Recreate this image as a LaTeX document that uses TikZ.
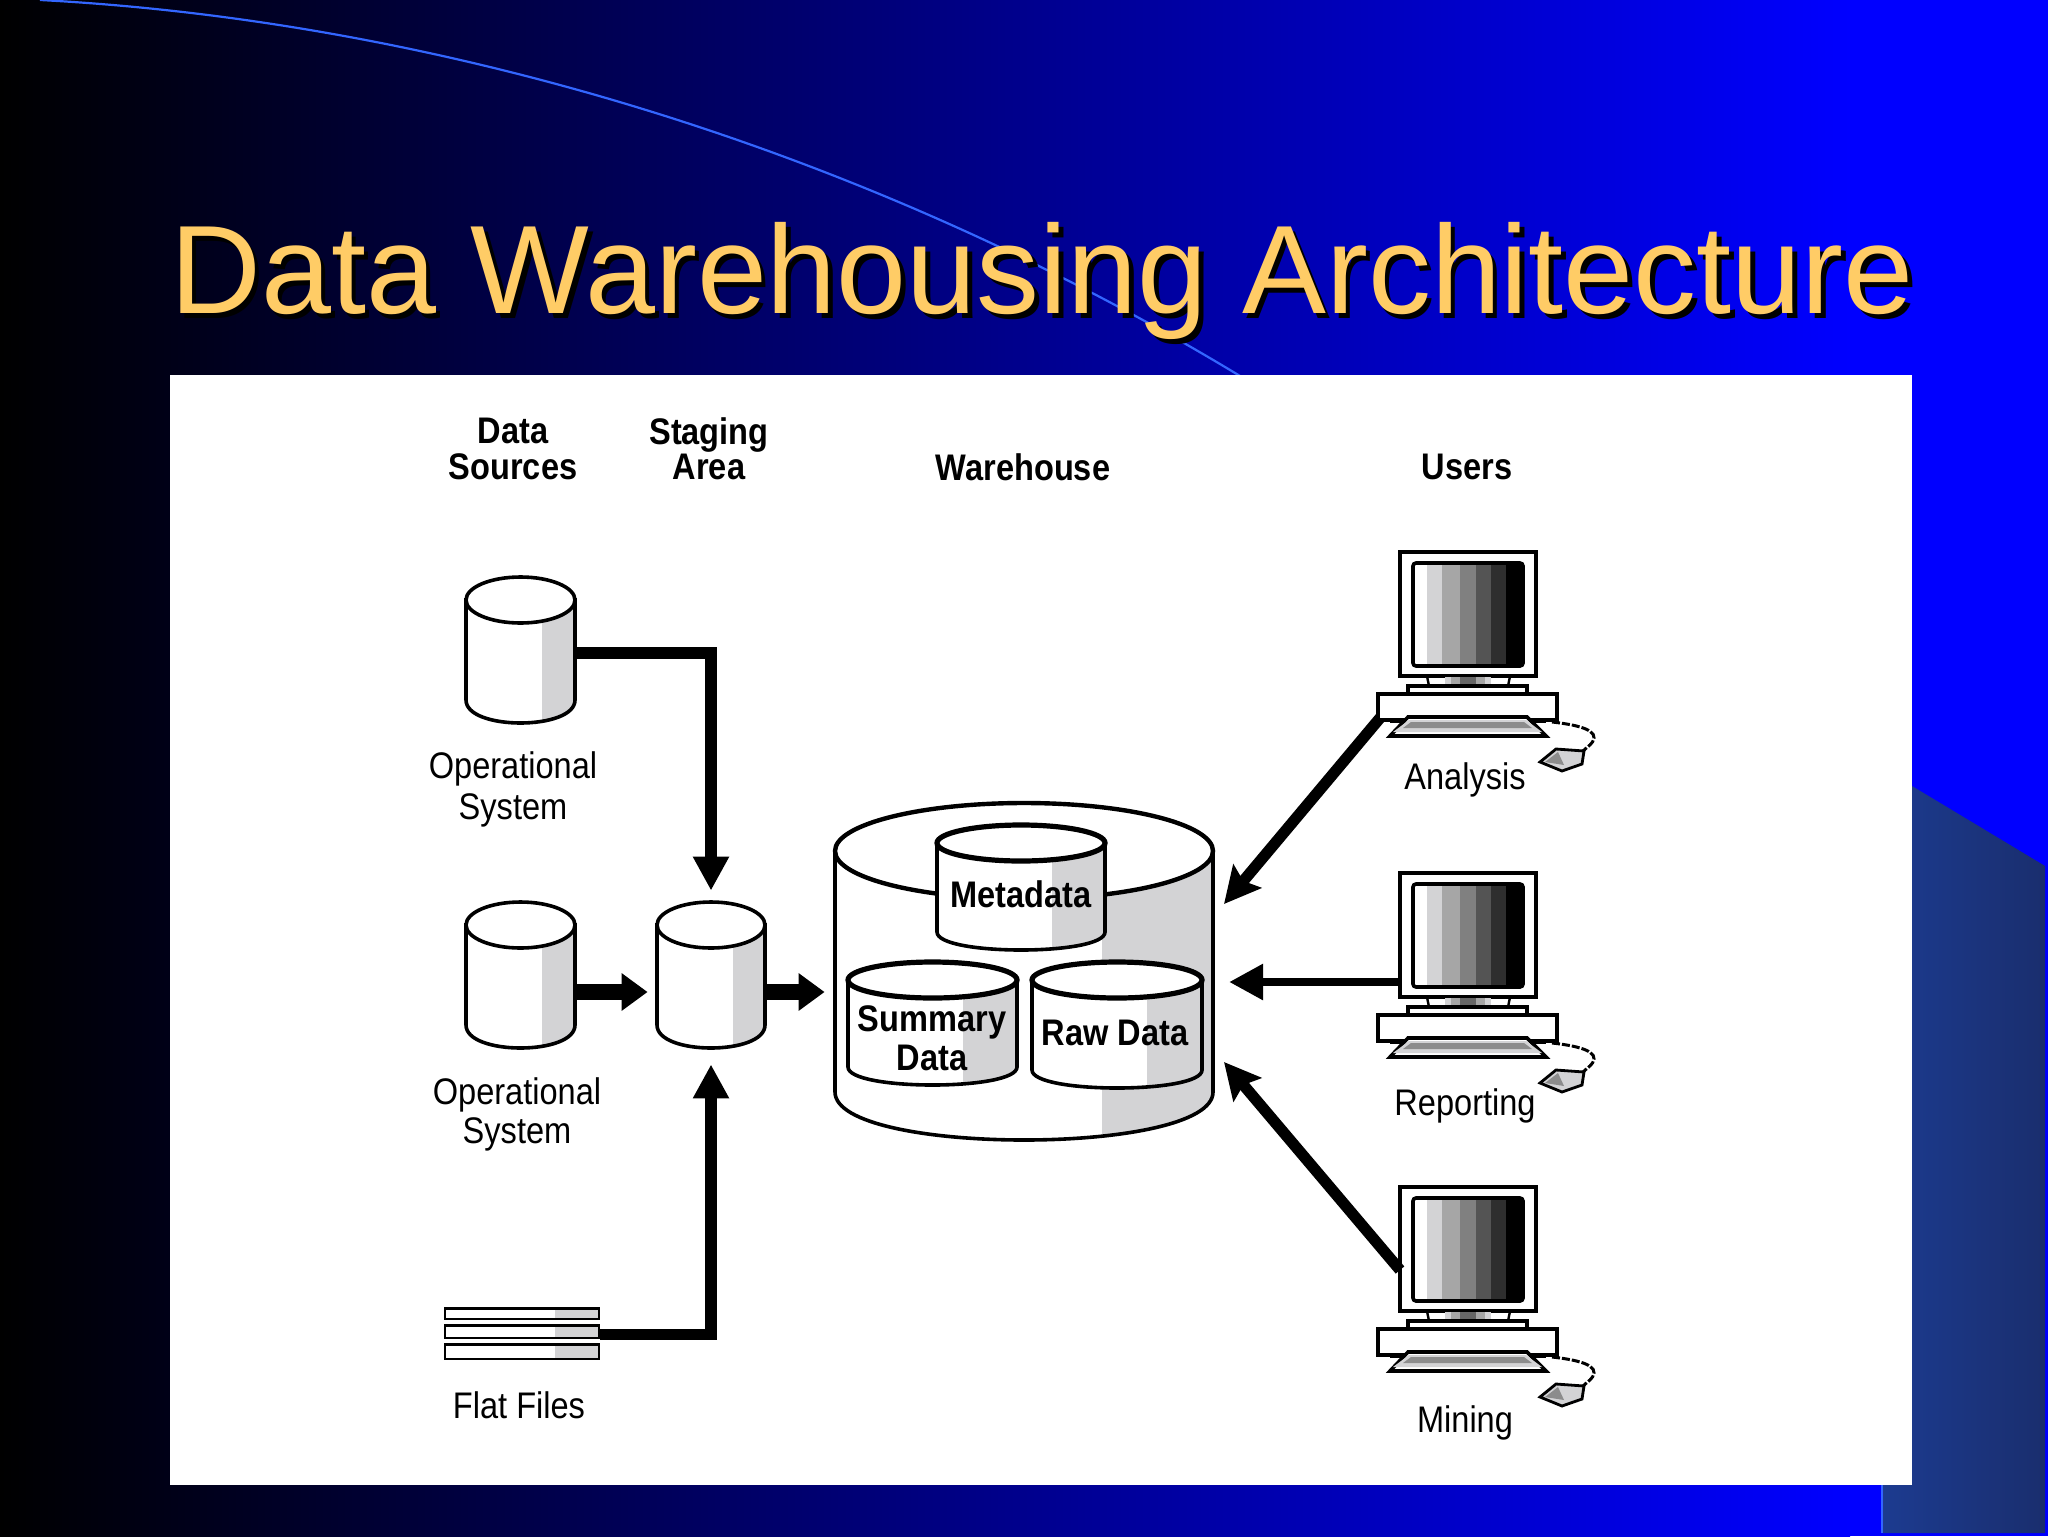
\documentclass[tikz,border=0pt]{standalone}
\usepackage{fontspec}
\usetikzlibrary{arrows.meta}
\setmainfont{Liberation Sans}
\newfontfamily\labfont[FakeStretch=0.88]{Liberation Sans}
\definecolor{shadegray}{HTML}{D3D3D5}
\definecolor{titlegold}{HTML}{FFCC66}
\definecolor{swoosh}{HTML}{3366FF}
\definecolor{paneldarkl}{HTML}{1C3B90}
\definecolor{paneldarkr}{HTML}{1A2E6E}
\tikzset{
  x=0.5pt,y=-0.5pt,
  lab/.style={inner sep=0pt,yshift=-1.2pt,font=\labfont\fontsize{18.5}{20}\selectfont,text=black},
  labb/.style={lab,font=\labfont\bfseries\fontsize{18.5}{20}\selectfont},
  conn/.style={line width=5.8pt,draw=black,-{Triangle[length=17pt,width=17pt]}},
  fat/.style={line width=8pt,draw=black,-{Triangle[length=13pt,width=18pt]}},
  diag/.style={line width=5.6pt,draw=black,-{Stealth[length=18pt,width=18pt,inset=3pt]}},
  outline/.style={draw=black,line width=1.8pt},
  computer/.pic={
    \draw[outline,fill=white] (0,0) rectangle (136,124);
    \fill[white] (13,11) rectangle (123,114);
    \fill[shadegray] (27,11) rectangle (42,114);
    \fill[black!35] (42,11) rectangle (60,114);
    \fill[black!50] (60,11) rectangle (76,114);
    \fill[black!67] (76,11) rectangle (91,114);
    \fill[black!82] (91,11) rectangle (106,114);
    \fill[black] (106,11) rectangle (123,114);
    \draw[outline,rounded corners=1.5pt] (13,11) rectangle (123,114);
    \fill[shadegray] (45,125) rectangle (91,134);
    \fill[black!35] (51,125) rectangle (85,134);
    \fill[black!60] (60,125) rectangle (76,134);
    \draw[line width=1.2pt] (27,124) -- (29,134) (110,124) -- (108,134);
    \draw[outline,fill=white] (8,134) rectangle (127,142);
    \draw[outline,fill=white] (-22,142) rectangle (157,168);
    \fill[black] (-10,168) rectangle (146,171);
    \draw[outline,fill=white] (8,165) -- (127,165) -- (146,184) -- (-10,184) -- cycle;
    \fill[shadegray] (9,168) -- (126,168) -- (142,180) -- (-7,180) -- cycle;
    \fill[black!45] (11,170) -- (124,170) -- (132,176) -- (3,176) -- cycle;
    \draw[line width=1.5pt,dash pattern=on 4pt off 1pt] (152,170) .. controls (170,172) and (195,176) .. (194,186) .. controls (193,192) and (188,194) .. (183,199);
    \draw[line width=1.4pt,fill=shadegray] (140,210) -- (156,197) -- (184,199) -- (182,212) -- (162,219) -- cycle;
    \fill[black!45] (145,210) -- (158,200) -- (164,213) -- cycle;
    \coordinate (-left) at (0,62);
    \coordinate (-corner) at (-20,166);
  }
}
% #1 name, #2 left, #3 right, #4 top, #5 bottom, #6 radius y, #7 start of shade, #8 ellipse rim
\newcommand{\drum}[8]{%
  \pgfmathsetmacro{\drumcx}{(#2+#3)/2}%
  \pgfmathsetmacro{\drumrx}{(#3-#2)/2}%
  \pgfmathsetmacro{\drumyt}{#4+#6}%
  \pgfmathsetmacro{\drumyb}{#5-#6}%
  \pgfmathsetmacro{\drumcy}{\drumyb+1.3333*#6}%
  \def\drumbody{(#2,\drumyt) -- (#2,\drumyb) .. controls (#2,\drumcy) and (#3,\drumcy) .. (#3,\drumyb) -- (#3,\drumyt) -- cycle}%
  \fill[white] \drumbody;%
  \begin{scope}
    \clip (#7,#4) rectangle (#3,#5);
    \fill[shadegray] \drumbody;
  \end{scope}%
  \draw[outline] \drumbody;%
  \draw[draw=black,line width=#8,fill=white] (\drumcx,\drumyt) ellipse [x radius=\drumrx,y radius=#6];%
  \node[inner sep=0pt,minimum width=0.5*(#3-#2),minimum height=0.5*(#5-#4)] (#1) at (\drumcx,{(#4+#5)/2}) {};%
}
\begin{document}
\begin{tikzpicture}
\useasboundingbox (0,0) rectangle (2048,1536);
% background
\fill[blue] (0,0) rectangle (2048,1536);
\shade[left color=black,right color=blue] (0,0) rectangle (1850,1536);
\shade[left color=paneldarkl,right color=paneldarkr] (1882,786) -- (1912,786) -- (2045,866) -- (2045,1533) -- (1882,1533) -- cycle;
\fill[blue] (1882,786) -- (1912,786) -- (1882,780) -- cycle;
\draw[swoosh,line width=0.9pt] (1882,1485) -- (1882,1533);
\draw[swoosh,line width=1.1pt] (40,0) .. controls (420,20) and (850,140) .. (1240,376);
% panel
\fill[white] (170,375) rectangle (1912,1485);
% title
\node[anchor=base west,inner sep=0pt,text=black,font=\fontsize{62.9}{70}\selectfont] (titleshadow) at (174.5,318) {Data Warehousing Architecture};
\node[anchor=base west,inner sep=0pt,text=titlegold,font=\fontsize{62.9}{70}\selectfont] (title) at (170,313.5) {Data Warehousing Architecture};
% headers
\node[labb] (hdata) at (513,428.5) {Data};
\node[labb] (hsources) at (513,464.5) {Sources};
\node[labb] (hstaging) at (709,433) {Staging};
\node[labb] (harea) at (709,465) {Area};
\node[labb] (hware) at (1023,464.5) {Warehouse};
\node[labb] (husers) at (1467,464.5) {Users};
% sources
\drum{dsone}{466}{575}{577}{723}{23}{542}{1.8pt}
\drum{dstwo}{466}{575}{902}{1048}{23}{542}{1.8pt}
\drum{stage}{657}{765}{902}{1048}{23}{733}{1.8pt}
\node[lab] (opa) at (513,767) {Operational};
\node[lab] (opb) at (513,808) {System};
\node[lab] (opc) at (517,1093) {Operational};
\node[lab] (opd) at (517,1132) {System};
% flat files
\foreach \ya/\yb in {1308.5/1319,1325.5/1338,1344.5/1359}{
  \fill[white] (445,\ya) rectangle (599,\yb);
  \fill[shadegray] (555,\ya) rectangle (599,\yb);
  \draw[draw=black,line width=1.2pt] (445,\ya) rectangle (599,\yb);
}
\node[inner sep=0pt,minimum width=78pt,minimum height=26.5pt] (flat) at (522,1333.5) {};
\node[lab] (flatlab) at (519,1402.5) {Flat Files};
% warehouse
\drum{wh}{835}{1213}{803}{1140}{48}{1102}{2.2pt}
\drum{meta}{937}{1105}{825}{950}{18}{1052}{2.6pt}
\drum{summ}{848}{1017}{962}{1085}{18}{963}{2.6pt}
\drum{raw}{1032}{1202}{962}{1088}{18}{1147}{2.6pt}
\node[labb] (metat) at (1021,892) {Metadata};
\node[labb] (summt) at (932,1020) {Summary};
\node[labb] (summd) at (932,1056) {Data};
\node[labb] (rawt) at (1115,1031) {Raw Data};
% computers
\pic (pa) at (1400,552) {computer};
\pic (pr) at (1400,873) {computer};
\pic (pm) at (1400,1187) {computer};
\node[lab] (anal) at (1465,778) {Analysis};
\node[lab] (repo) at (1465,1104) {Reporting};
\node[lab] (mini) at (1465,1421) {Mining};
% connectors
\coordinate (tipa) at (1224,904);
\coordinate (tipr) at (1229,982);
\coordinate (tipm) at (1224,1062);
\coordinate (whin) at ([shift={(-10,0)}]wh.west);
\draw[conn,shorten >=5.5pt] ([shift={(0,3)}]dsone.east) -| (stage.north);
\draw[conn,shorten >=8pt] ([shift={(0,1)}]flat.east) -| (stage.south);
\draw[fat] ([shift={(0,17)}]dstwo.east) -- ([shift={(-9,17)}]stage.west);
\draw[fat] ([shift={(0,17)}]stage.east) -- ([shift={(0,17)}]stage.east -| whin);
\draw[diag] (pa-corner) -- (tipa);
\draw[conn,line width=4.4pt] ([shift={(0,47)}]pr-left) -- (tipr);
\draw[diag] ([shift={(0,21)}]pm-left) -- (tipm);
\end{tikzpicture}
\end{document}
